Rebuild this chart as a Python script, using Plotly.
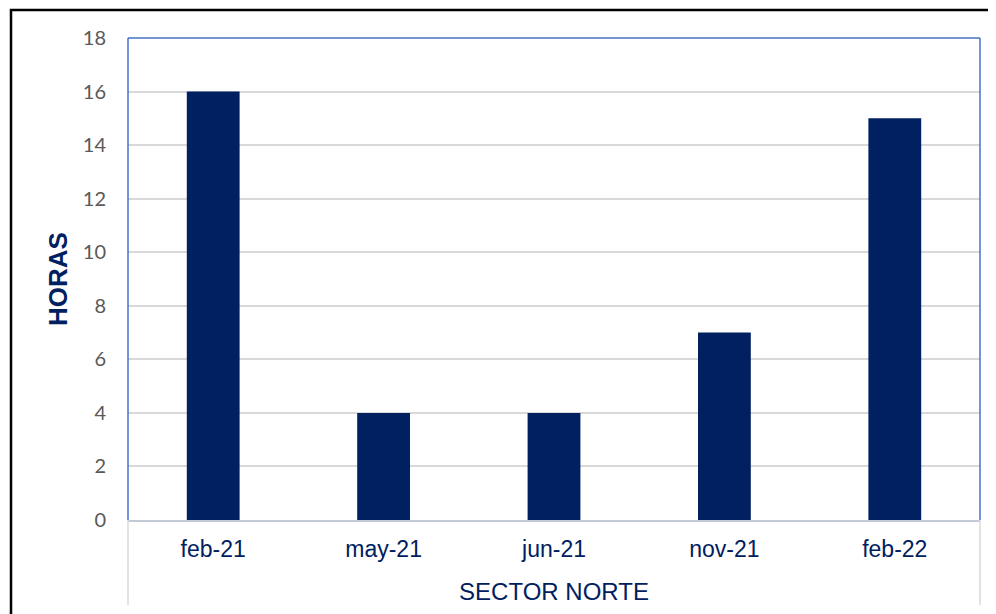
import plotly.graph_objects as go

# data
months = ["feb-21", "may-21", "jun-21", "nov-21", "feb-22"]
horas = [16, 4, 4, 7, 15]
y_ticks = [0, 2, 4, 6, 8, 10, 12, 14, 16, 18]

NAVY = "#002060"
# the page body adds an 8px offset, so the figure is drawn 8px smaller
W, H = 988, 606
L, R, T, B = 120, 16, 30, 94


def px(x):
    return (x - L) / (W - L - R)


def py(y):
    return (H - B - y) / (H - T - B)


fig = go.Figure()
fig.add_trace(go.Bar(
    x=months, y=horas,
    marker=dict(color=NAVY, line=dict(width=0)),
    hoverinfo="x+y",
))

fig.update_layout(
    width=W, height=H,
    margin=dict(l=L, r=R, t=T, b=B),
    plot_bgcolor="white", paper_bgcolor="white",
    bargap=0.69,
    showlegend=False,
    shapes=[
        # outer black frame (cropped at right and bottom)
        dict(type="rect", xref="paper", yref="paper",
             x0=px(3), x1=px(1100), y0=py(700), y1=py(2),
             line=dict(color="black", width=2.5), layer="below"),
        # blue plot-area frame: left, top, right
        dict(type="line", xref="paper", yref="paper", x0=0, x1=0, y0=0, y1=1,
             line=dict(color="#4472C4", width=1.5)),
        dict(type="line", xref="paper", yref="paper", x0=0, x1=1, y0=1, y1=1,
             line=dict(color="#4472C4", width=1.5)),
        dict(type="line", xref="paper", yref="paper", x0=1, x1=1, y0=0, y1=1,
             line=dict(color="#4472C4", width=1.5)),
        # category axis edge lines below the plot
        dict(type="line", xref="paper", yref="paper", x0=0, x1=0, y0=0, y1=py(597),
             line=dict(color="#d9d9d9", width=1.5)),
        dict(type="line", xref="paper", yref="paper", x0=1, x1=1, y0=0, y1=py(597),
             line=dict(color="#d9d9d9", width=1.5)),
    ],
)

fig.update_xaxes(
    showline=True, linecolor="#c3c9d6", linewidth=2,
    showgrid=False, ticks="",
    ticklabelstandoff=7,
    tickfont=dict(family="Liberation Sans, Arial", size=23, color=NAVY),
    title=dict(text="SECTOR NORTE", standoff=23,
               font=dict(family="Liberation Sans, Arial", size=24, color=NAVY)),
)
fig.update_yaxes(
    range=[0, 18], tickvals=y_ticks,
    showgrid=True, gridcolor="#d9d9d9", gridwidth=1.5,
    showline=False, zeroline=False, ticks="",
    ticklabelstandoff=21,
    tickfont=dict(family="Lato, Open Sans", size=20, color="#595959"),
    title=dict(text="<b>HORAS</b>", standoff=7,
               font=dict(family="Liberation Sans, Arial", size=26, color=NAVY)),
)

fig.write_html("out.html")
